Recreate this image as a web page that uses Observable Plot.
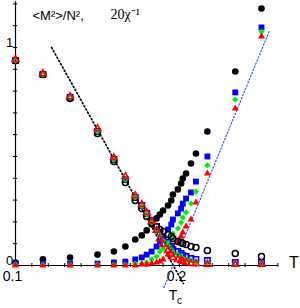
<!DOCTYPE html>
<html><head><meta charset="utf-8">
<script src="https://cdn.jsdelivr.net/npm/d3@7"></script>
<script src="https://cdn.jsdelivr.net/npm/@observablehq/plot@0.6"></script>
<style>body{margin:0;background:#fff}</style>
</head><body><div id="chart"></div>
<script>
// Temperatures (shared by all series)
const T = [0.100,0.1167,0.1333,0.150,0.160,0.167,0.173,0.177,0.180,0.183,0.186,0.188,0.190,0.193,0.195,0.196,0.199,0.201,0.202,0.204,0.207,0.210,0.217,0.234,0.250];

// 20 chi^-1 (filled markers)
const chiBlack = [0.014,0.028,0.037,0.050,0.064,0.087,0.119,0.138,0.161,0.188,0.216,0.234,0.252,0.275,0.298,0.326,0.349,0.376,0.399,0.422,0.468,0.514,0.615,0.890,1.179];
const chiBlue  = [0.009,0.009,0.009,0.009,0.014,0.018,0.028,0.037,0.050,0.064,0.087,0.110,0.133,0.165,0.188,0.211,0.239,0.261,0.284,0.307,0.335,0.385,0.500,0.794,1.092];
const chiGreen = [0.005,0.005,0.005,0.005,0.005,0.005,0.009,0.009,0.014,0.028,0.041,0.064,0.078,0.106,0.124,0.147,0.170,0.197,0.220,0.243,0.284,0.339,0.459,0.761,1.073];
const chiRed   = [0,0,0,0,0,0,0,0.005,0.005,0.009,0.014,0.018,0.028,0.050,0.069,0.087,0.110,0.133,0.151,0.179,0.211,0.289,0.422,0.720,1.050];

// <M^2>/N^2 (open markers)
const mBlack = [0.940,0.876,0.766,0.606,0.477,0.381,0.298,0.261,0.225,0.197,0.179,0.165,0.156,0.142,0.133,0.124,0.110,0.106,0.101,0.096,0.087,0.083,0.069,0.055,0.041];
const mBlue  = [0.940,0.876,0.771,0.615,0.486,0.394,0.312,0.275,0.239,0.206,0.179,0.151,0.128,0.106,0.087,0.073,0.064,0.055,0.046,0.041,0.032,0.028,0.023,0.014,0.014];
const mGreen = [0.940,0.876,0.771,0.615,0.486,0.394,0.312,0.271,0.234,0.197,0.165,0.138,0.115,0.092,0.073,0.060,0.050,0.041,0.032,0.028,0.023,0.018,0.014,0.009,0.009];
const mRed   = [0.945,0.881,0.775,0.628,0.495,0.408,0.321,0.280,0.243,0.202,0.161,0.124,0.096,0.069,0.050,0.037,0.028,0.023,0.018,0.014,0.009,0.009,0.005,0.005,0.005];

// guide lines (end points)
const fitM   = [{T:0.122, v:1.0}, {T:0.2024, v:-0.083}];
const fitChi = [{T:0.1905, v:-0.101}, {T:0.2549, v:1.078}];
const Tc = 0.196;

// axes
const xTicks = d3.range(0, 17).map(i => +(0.1 + i*0.01).toFixed(2));
const yTicks = d3.range(0, 13).map(i => +(i*0.1).toFixed(1));
const xLabels = [0.1, 0.2];
const yLabels = [0, 1];

const rows = (ys) => T.map((t, i) => ({T: t, v: ys[i]}));

const chart = Plot.plot({
  width: 300, height: 308,
  marginTop: 0, marginRight: 0, marginBottom: 0, marginLeft: 0,
  x: {type: "linear", domain: [0.1, 0.26], range: [15, 277.4], axis: null},
  y: {type: "linear", domain: [0, 1], range: [265, 47], axis: null},
  style: {fontFamily: "'Liberation Sans', Arial, sans-serif", background: "#fff", overflow: "visible"},
  marks: [
    // axes
    Plot.ruleY([0], {x1: 0.1, x2: 0.26, stroke: "#000", strokeWidth: 1.2}),
    Plot.ruleX([0.1], {y1: 0, y2: 1.21, stroke: "#000", strokeWidth: 1.2}),
    Plot.ruleX(xTicks, {x: d => d, y1: -0.009, y2: 0.009, stroke: "#000", strokeWidth: 1}),
    Plot.ruleY(yTicks, {y: d => d, x1: 0.1 - 0.0013, x2: 0.1 + 0.0013, stroke: "#000", strokeWidth: 1}),
    // guide lines
    Plot.line(fitM, {x: "T", y: "v", stroke: "#000", strokeWidth: 1.7, strokeDasharray: "1.3,2.4"}),
    Plot.line(fitChi, {x: "T", y: "v", stroke: "#3344ff", strokeWidth: 1.1, strokeDasharray: "1.4,2"}),
    // 20 chi^-1 filled
    Plot.dot(rows(chiBlack), {x: "T", y: "v", r: 3.3, fill: "#000", stroke: "none"}),
    Plot.dot(rows(chiBlue), {x: "T", y: "v", symbol: "square", r: 3.3, fill: "#0000ff", stroke: "none"}),
    Plot.dot(rows(chiGreen), {x: "T", y: "v", symbol: "diamond2", r: 2.4, fill: "#00ee00", stroke: "#00ee00", strokeWidth: 0.8}),
    Plot.dot(rows(chiRed), {x: "T", y: "v", symbol: "triangle", r: 2.6, fill: "#ff0000", stroke: "none"}),
    // <M^2>/N^2 open
    Plot.dot(rows(mBlue), {x: "T", y: "v", symbol: "square", r: 3.0, fill: "none", stroke: "#0000ff", strokeWidth: 1.6}),
    Plot.dot(rows(mBlack), {x: "T", y: "v", r: 3.0, fill: "none", stroke: "#000", strokeWidth: 1.5}),
    Plot.dot(rows(mGreen), {x: "T", y: "v", symbol: "diamond2", r: 1.9, fill: "none", stroke: "#00dd00", strokeWidth: 1.4}),
    Plot.dot(rows(mRed), {x: "T", y: "v", symbol: "triangle", r: 2.5, fill: "none", stroke: "#ff0000", strokeWidth: 1.5}),
    // tick labels
    Plot.text(yLabels, {x: 0.1, y: d => d, text: d => String(d), dx: -6, dy: -5, fontSize: 13, textAnchor: "middle", lineAnchor: "middle", fill: "#000"}),
    Plot.text(xLabels, {x: d => d, y: 0, text: d => String(d), dx: -3, dy: 11, fontSize: 14, textAnchor: "middle", lineAnchor: "middle", fill: "#000"}),
    Plot.text(["T"], {x: 0.26, y: 0, text: d => d, dx: 16, dy: -3, fontSize: 16, textAnchor: "middle", lineAnchor: "middle", fill: "#000"}),
    Plot.text(["T"], {x: Tc, y: 0, text: d => d, dx: 0, dy: 30, fontSize: 14, textAnchor: "middle", lineAnchor: "middle", fill: "#000"}),
    Plot.text(["c"], {x: Tc, y: 0, text: d => d, dx: 6.5, dy: 35, fontSize: 10, textAnchor: "middle", lineAnchor: "middle", fill: "#000"}),
    // titles
    Plot.text(["<M²>/N²,"], {frameAnchor: "top-left", text: d => d, dx: 32, dy: 15, fontSize: 13, textAnchor: "start", lineAnchor: "middle", fill: "#000"}),
    Plot.text(["20χ⁻¹"], {frameAnchor: "top-left", text: d => d, dx: 110, dy: 14, fontSize: 14, fontFamily: "'Liberation Serif', 'Times New Roman', serif", textAnchor: "start", lineAnchor: "middle", fill: "#000"})
  ]
});
document.getElementById("chart").appendChild(chart);
</script>
</body></html>
